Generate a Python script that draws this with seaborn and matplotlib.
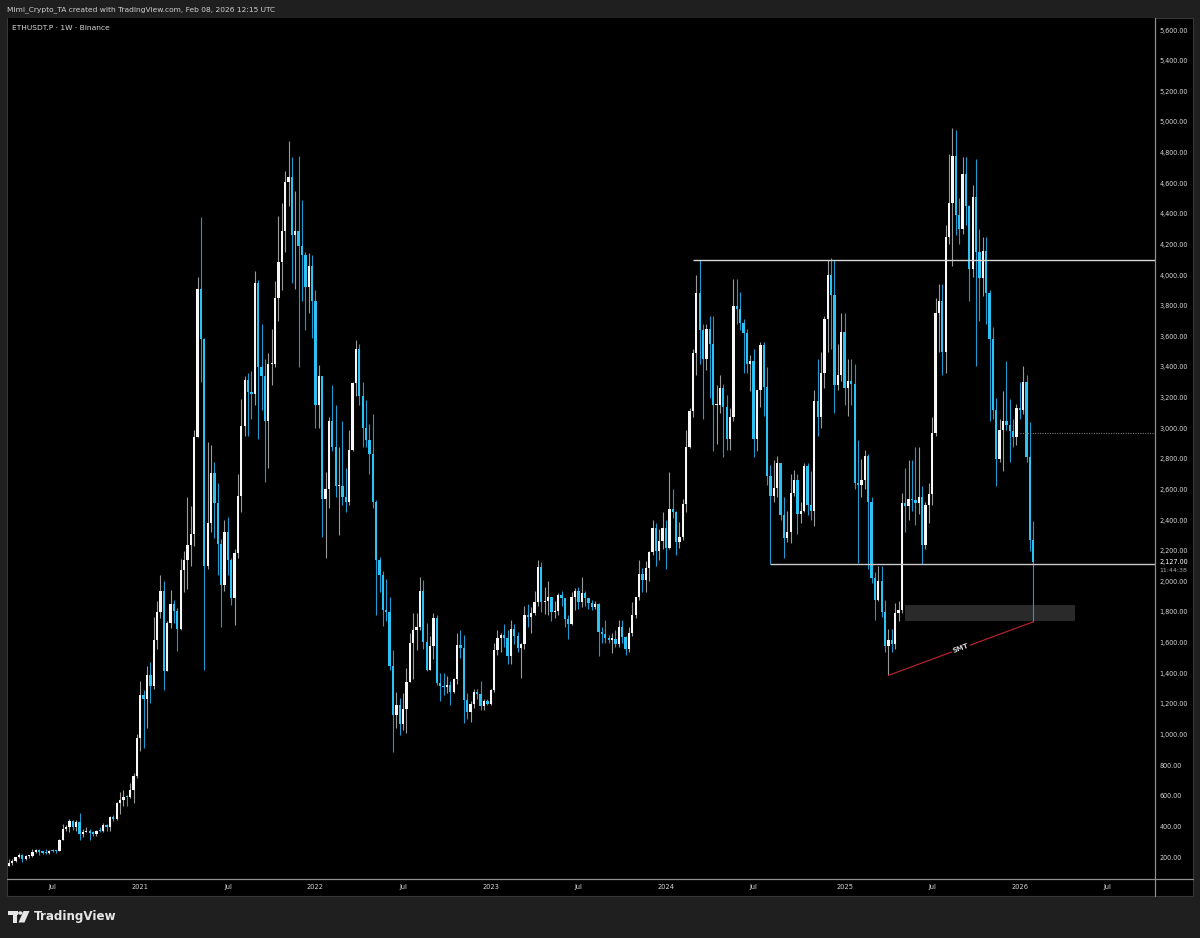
# ETHUSDT.P weekly chart - TradingView style recreation
import numpy as np
import pandas as pd
import matplotlib
matplotlib.use("Agg")
import matplotlib.pyplot as plt
from matplotlib.patches import Rectangle, Polygon, Circle
from matplotlib.lines import Line2D
import seaborn as sns

# weekly candles, first week starts on this monday
first_week = "2020-04-06"
first_open = 143

week_close = [
    # 2020
    158, 171, 197, 211, 187, 207, 208, 231, 244, 233,
    229, 226, 241, 239, 237, 311, 386, 394, 433, 395,
    428, 353, 365, 371, 355, 353, 370, 369, 406, 396,
    464, 448, 550, 575, 595, 590, 638, 731, 975,
    # 2021
    1260, 1232, 1391, 1314, 1614, 1800, 1935, 1417, 1725, 1853,
    1805, 1690, 2075, 2140, 2235, 2310, 2945, 3910, 3580, 2100,
    2380, 2707, 2510, 2245, 1975, 2322, 2140, 1890, 2185, 2557,
    3014, 3315, 3236, 3225, 3950, 3400, 3340, 3050, 3419, 3420,
    3850, 4085, 4290, 4610, 4640, 4260, 4290, 4190, 4130, 3920,
    4060, 3830,
    # 2022
    3150, 3340, 2540, 2600, 3050, 2880, 2620, 2620, 2550, 2520,
    2860, 3295, 3520, 3210, 3000, 2920, 2830, 2520, 2140, 2041,
    1810, 1800, 1450, 1127, 1192, 1070, 1165, 1340, 1597, 1680,
    1700, 1935, 1606, 1421, 1575, 1760, 1336, 1315, 1310, 1320,
    1280, 1365, 1585, 1565, 1225, 1150, 1200, 1280, 1265, 1185,
    1220, 1200,
    # 2023
    1290, 1550, 1627, 1648, 1630, 1515, 1690, 1640, 1565, 1590,
    1780, 1770, 1795, 1862, 2095, 1865, 1870, 1895, 1800, 1808,
    1908, 1890, 1752, 1720, 1895, 1935, 1865, 1925, 1890, 1860,
    1835, 1850, 1670, 1655, 1630, 1620, 1625, 1590, 1700, 1635,
    1555, 1665, 1780, 1895, 2050, 2010, 2085, 2190, 2350, 2195,
    2265, 2350,
    # 2024
    2220, 2470, 2455, 2260, 2290, 2505, 2880, 3110, 3490, 3880,
    3640, 3450, 3645, 3550, 3150, 3150, 3260, 3140, 2930, 3070,
    3800, 3780, 3690, 3620, 3420, 3440, 2930, 3250, 3540, 3270,
    2690, 2560, 2610, 2770, 2430, 2280, 2320, 2580, 2660, 2440,
    2460, 2750, 2500, 2460, 3180, 3070, 3360, 3710, 4000, 3870,
    3280, 3350, 3630,
    # 2025
    3260, 3310, 3290, 2640, 2630, 2660, 2820, 2515, 2020, 1880,
    2000, 1800, 1580, 1620, 1590, 1790, 1810, 2510, 2490, 2540,
    2530, 2510, 2550, 2240, 2500, 2570, 2970, 3750, 3830, 3500,
    4250, 4470, 4780, 4390, 4300, 4660, 4450, 4040, 4510, 4150,
    3980, 4160, 3880, 3580, 3120, 2800, 2990, 3050, 3020, 2980,
    2940, 3130,
    # 2026
    3120, 3300, 2810, 2270, 2127,
]

week_high = [
    190, 189, 199, 227, 217, 214, 215, 249, 254, 251,
    240, 249, 247, 250, 244, 320, 415, 407, 445, 444,
    440, 488, 384, 395, 386, 370, 378, 395, 420, 413,
    470, 477, 561, 622, 636, 607, 680, 750, 1000,
    1350, 1290, 1445, 1475, 1765, 1870, 2040, 2000, 1740, 1945,
    1880, 1825, 2145, 2200, 2550, 2490, 2985, 3985, 4380, 3590,
    2910, 2890, 2780, 2640, 2275, 2400, 2420, 2150, 2210, 2700,
    3190, 3340, 3360, 3375, 4025, 3970, 3680, 3450, 3490, 3650,
    3960, 4385, 4470, 4680, 4875, 4770, 4550, 4780, 4490, 4150,
    4145, 4130,
    3900, 3413, 3340, 2714, 3073, 3282, 3150, 2880, 3050, 2740,
    2990, 3300, 3576, 3550, 3300, 3184, 3030, 3093, 2530, 2160,
    2070, 2015, 1900, 1550, 1277, 1240, 1271, 1434, 1663, 1793,
    1795, 2028, 2011, 1728, 1640, 1793, 1780, 1400, 1400, 1380,
    1350, 1370, 1663, 1680, 1650, 1270, 1220, 1300, 1300, 1350,
    1230, 1230,
    1300, 1600, 1680, 1660, 1720, 1680, 1745, 1720, 1670, 1600,
    1840, 1850, 1830, 1940, 2140, 2125, 1960, 2000, 1900, 1870,
    1925, 1935, 1890, 1780, 1930, 1955, 1960, 2030, 1940, 1890,
    1880, 1870, 1860, 1705, 1745, 1650, 1660, 1680, 1750, 1750,
    1640, 1700, 1865, 1900, 2140, 2090, 2135, 2200, 2400, 2380,
    2340, 2450,
    2400, 2715, 2600, 2460, 2390, 2540, 2990, 3130, 3520, 4000,
    4095, 3680, 3680, 3730, 3730, 3280, 3350, 3290, 3215, 3130,
    3975, 3975, 3890, 3710, 3650, 3480, 3520, 3250, 3560, 3560,
    3400, 2760, 2790, 2820, 2770, 2550, 2460, 2700, 2730, 2700,
    2520, 2770, 2770, 2720, 3250, 3450, 3500, 3730, 4100, 4110,
    4100, 3550, 3750,
    3750, 3450, 3450, 3420, 2920, 2800, 2860, 2830, 2550, 2060,
    2100, 2100, 1880, 1690, 1690, 1860, 1870, 2580, 2740, 2790,
    2790, 2880, 2880, 2620, 2520, 2640, 3070, 3850, 3940, 3940,
    4330, 4790, 4960, 4950, 4500, 4770, 4770, 4460, 4590, 4758,
    4300, 4250, 4250, 3900, 3660, 3200, 3060, 3240, 3440, 3190,
    3060, 3160,
    3300, 3405, 3350, 3040, 2395,
]

week_low = [
    139, 148, 166, 192, 165, 180, 192, 197, 227, 215,
    221, 218, 221, 235, 228, 236, 309, 369, 363, 374,
    372, 308, 330, 360, 308, 334, 337, 360, 366, 370,
    373, 437, 443, 480, 535, 535, 585, 550, 714,
    890, 915, 1040, 1205, 1300, 1560, 1760, 1290, 1412, 1695,
    1730, 1545, 1680, 1930, 1950, 2100, 2230, 2945, 3300, 1420,
    2080, 2320, 2280, 2040, 1705, 1935, 2040, 1845, 1715, 2150,
    2450, 2950, 2950, 3060, 3150, 2930, 3120, 2650, 2740, 3280,
    3400, 3700, 3900, 4150, 4450, 3950, 3910, 3400, 3830, 3640,
    3755, 3590,
    3000, 3000, 2290, 2152, 2480, 2850, 2550, 2300, 2500, 2450,
    2500, 2850, 3210, 3150, 2880, 2880, 2700, 2480, 1780, 1930,
    1710, 1740, 1420, 886, 1042, 997, 1030, 1010, 1340, 1360,
    1549, 1680, 1560, 1415, 1420, 1490, 1320, 1220, 1260, 1270,
    1190, 1270, 1330, 1500, 1075, 1100, 1080, 1170, 1230, 1160,
    1160, 1190,
    1190, 1280, 1520, 1540, 1570, 1460, 1460, 1590, 1540, 1370,
    1560, 1700, 1660, 1780, 1840, 1800, 1785, 1780, 1740, 1760,
    1780, 1840, 1705, 1625, 1715, 1810, 1820, 1830, 1840, 1820,
    1810, 1820, 1510, 1600, 1600, 1600, 1530, 1570, 1570, 1600,
    1520, 1540, 1640, 1760, 1875, 1930, 1930, 2000, 2170, 2100,
    2140, 2210,
    2080, 2210, 2415, 2170, 2220, 2270, 2450, 2870, 3070, 3350,
    3420, 3060, 3380, 3200, 2850, 2900, 3100, 2810, 2860, 2860,
    3050, 3680, 3640, 3360, 3360, 3240, 2810, 2850, 3140, 3080,
    2630, 2111, 2520, 2550, 2400, 2150, 2260, 2250, 2560, 2310,
    2380, 2450, 2430, 2400, 2360, 2950, 3000, 3260, 3500, 3520,
    3100, 3250, 3310,
    3150, 3080, 3150, 2600, 2120, 2550, 2600, 2080, 1990, 1750,
    1870, 1770, 1540, 1386, 1540, 1560, 1740, 1790, 2320, 2400,
    2460, 2370, 2440, 2110, 2210, 2380, 2500, 2950, 3500, 3350,
    3360, 4200, 4060, 4260, 4200, 4270, 4330, 3830, 3990, 3406,
    3700, 3860, 3680, 3050, 3060, 2620, 2780, 2720, 2990, 2780,
    2880, 2890,
    3060, 3090, 2780, 2200, 1736,
]

# drawings on the chart (prices, week index)
range_top = 4100
range_top_from = 203
range_floor = 2111
range_floor_from = 226
dotted_level = 2969
dotted_from = 300
zone_top, zone_bottom = 1846, 1741
zone_from, zone_to = 266, 316.4
smt_start = (261, 1386)
smt_end = (304, 1736)
last_price = 2127
countdown = "11:44:38"
price_ticks = list(range(200, 5601, 200))

sns.set_theme(style="dark", rc={"axes.facecolor": "black", "figure.facecolor": "#1f1f1f"})
plt.rcParams["font.family"] = ["DejaVu Sans"]

W, H = 1200, 938
fig = plt.figure(figsize=(12, 9.38), dpi=100)
fig.patch.set_facecolor("#1f1f1f")


def fx(px):
    return px / W


def fy(py):
    return 1 - py / H


# black panel for chart + scales
fig.add_artist(Rectangle((fx(7), fy(896)), (1193 - 7) / W, (896 - 18) / H,
                         transform=fig.transFigure, facecolor="black",
                         edgecolor="#363636", lw=0.8, zorder=0))

ax = fig.add_axes([fx(8), fy(878), (1155 - 8) / W, (878 - 18) / H])
ax.set_facecolor("black")
for s in ax.spines.values():
    s.set_visible(False)
ax.grid(False)

opens = np.array([first_open] + week_close[:-1], dtype=float)
closes = np.array(week_close, dtype=float)
highs = np.array(week_high, dtype=float)
lows = np.array(week_low, dtype=float)
idx = np.arange(len(closes))
up = closes >= opens

body_col = np.where(up, "#f7f7f7", "#2cc3f4")
wick_col = np.where(up, "#9a9a9a", "#1f9ad0")

ax.vlines(idx, lows, highs, colors=wick_col, lw=0.8, zorder=2)
body_low = np.minimum(opens, closes)
body_h = np.maximum(np.abs(closes - opens), 7)
ax.bar(idx, body_h, bottom=body_low, width=0.68, color=body_col, linewidth=0, zorder=3)

ax.set_xlim(-0.24, 340.1)
ax.set_ylim(62.9, 5678.4)

# drawn objects
ax.hlines(range_top, range_top_from, 341, color="#d6d6d6", lw=1.0, zorder=4)
ax.hlines(range_floor, range_floor_from, 341, color="#c9c9c9", lw=1.0, zorder=4)
ax.hlines(dotted_level, dotted_from, 341, color="#7a7a7a", lw=0.8,
          linestyles=(0, (1, 1.2)), zorder=4)
ax.add_patch(Rectangle((zone_from, zone_bottom), zone_to - zone_from, zone_top - zone_bottom,
                       facecolor="#2a2a2a", edgecolor="none", zorder=1))
ax.plot([smt_start[0], smt_end[0]], [smt_start[1], smt_end[1]], color="#c0262d", lw=0.8, zorder=4)
p1 = ax.transData.transform(smt_start)
p2 = ax.transData.transform(smt_end)
ang = np.degrees(np.arctan2(p2[1] - p1[1], p2[0] - p1[0]))
ax.text((smt_start[0] + smt_end[0]) / 2, (smt_start[1] + smt_end[1]) / 2, "SMT",
        rotation=ang, rotation_mode="anchor", ha="center", va="center",
        fontsize=5.0, fontweight="bold", color="#d4d4d4", zorder=5,
        bbox=dict(facecolor="black", edgecolor="none", pad=0.8))

# price scale
ax.yaxis.tick_right()
ax.set_yticks(price_ticks)
ax.set_yticklabels([f"{p:,.2f}" for p in price_ticks])
ax.tick_params(axis="y", length=0, pad=3.4, labelsize=4.7, labelcolor="#d6d6d6")
ax.annotate(f"{last_price:,.2f}", xy=(1.0, last_price), xycoords=("axes fraction", "data"),
            xytext=(3.4, 0), textcoords="offset points", ha="left", va="center",
            fontsize=4.7, color="#ffffff", annotation_clip=False)
ax.annotate(countdown, xy=(1.0, last_price), xycoords=("axes fraction", "data"),
            xytext=(3.4, -6.0), textcoords="offset points", ha="left", va="center",
            fontsize=4.5, color="#a8a8a8", annotation_clip=False)

# time scale
weeks = pd.date_range(first_week, periods=341, freq="W-MON")
tick_pos, tick_lab = [], []
for i, d in enumerate(weeks):
    if d.month in (1, 7) and d.day <= 7:
        tick_pos.append(i)
        tick_lab.append(str(d.year) if d.month == 1 else "Jul")
ax.set_xticks(tick_pos)
ax.set_xticklabels(tick_lab)
ax.tick_params(axis="x", length=0, pad=4.2, labelsize=4.8, labelcolor="#d6d6d6")

# separators between chart and scales
fig.add_artist(Line2D([fx(7), fx(1193)], [fy(878.5), fy(878.5)], color="#8f8f8f", lw=0.9))
fig.add_artist(Line2D([fx(1154.5), fx(1154.5)], [fy(18), fy(896)], color="#8f8f8f", lw=0.9))

# header / legend
fig.text(fx(7), fy(10), "Mimi_Crypto_TA created with TradingView.com, Feb 08, 2026 12:15 UTC",
         fontsize=5.4, color="#cfcfcf", va="center", ha="left")
fig.text(fx(12), fy(28.5), "ETHUSDT.P \u00b7 1W \u00b7 Binance",
         fontsize=5.4, color="#d6d6d6", va="center", ha="left")

# TradingView logo
fig.add_artist(Rectangle((fx(8), fy(915)), 9.5 / W, 4 / H, transform=fig.transFigure,
                         facecolor="#e6e6e6", edgecolor="none"))
fig.add_artist(Rectangle((fx(12.5), fy(922.5)), 4.5 / W, 11.5 / H, transform=fig.transFigure,
                         facecolor="#e6e6e6", edgecolor="none"))
fig.add_artist(Circle((fx(20.3), fy(913)), 2.2 / W, transform=fig.transFigure,
                      facecolor="#e6e6e6", edgecolor="none"))
fig.add_artist(Polygon([(fx(23.5), fy(911)), (fx(29.5), fy(911)), (fx(24.5), fy(922.5)),
                        (fx(18.5), fy(922.5))], closed=True, transform=fig.transFigure,
                       facecolor="#e6e6e6", edgecolor="none"))
fig.text(fx(33.5), fy(916.5), "TradingView", fontsize=8.6, fontweight="bold",
         color="#e6e6e6", va="center", ha="left")

fig.savefig("out.png", dpi=100, facecolor=fig.get_facecolor())
